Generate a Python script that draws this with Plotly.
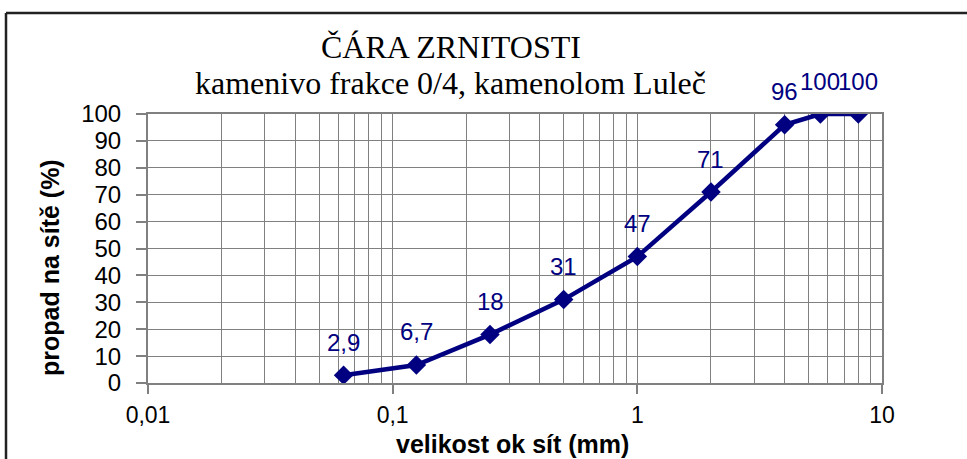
import math
import plotly.graph_objects as go

# Data
sieve_mm = [0.063, 0.125, 0.25, 0.5, 1, 2, 4, 5.6, 8]
passing = [2.9, 6.7, 18, 31, 47, 71, 96, 100, 100]
labels = ["2,9", "6,7", "18", "31", "47", "71", "96", "100", "100"]
x_ticks = [0.01, 0.1, 1, 10]
x_tick_text = ["0,01", "0,1", "1", "10"]
y_ticks = list(range(0, 101, 10))
title_line1 = "ČÁRA ZRNITOSTI"
title_line2 = "kamenivo frakce 0/4, kamenolom Luleč"
x_title = "velikost ok sít (mm)"
y_title = "propad na sítě (%)"

NAVY = "#000080"
GRID = "#808080"
SANS = "Arial, Liberation Sans, sans-serif"
SERIF = "Times New Roman, Liberation Serif, serif"

W, H = 967, 459
L, R, T, B = 148, 85, 114, 76
pw, ph = W - L - R, H - T - B


def px(xp):
    return (xp - L) / pw


def py(yp):
    return (H - B - yp) / ph


minor_vals = [m * 10 ** e for e in (-2, -1, 0) for m in range(2, 10)]

fig = go.Figure()
fig.add_trace(go.Scatter(
    x=sieve_mm, y=passing, mode="lines+markers",
    line=dict(color=NAVY, width=4.5),
    marker=dict(symbol="diamond", size=15, color=NAVY),
    showlegend=False, hoverinfo="skip",
))

annotations = []
for xv, yv, t in zip(sieve_mm, passing, labels):
    annotations.append(dict(
        x=math.log10(xv), y=yv, xref="x", yref="y", text=t, showarrow=False,
        xanchor="center", yanchor="middle",
        yshift=33, font=dict(family=SANS, size=24, color=NAVY),
    ))

annotations += [
    dict(x=px(451), y=py(47), xref="paper", yref="paper", text=title_line1,
         xanchor="center", yanchor="middle",
         showarrow=False, font=dict(family=SERIF, size=32, color="black")),
    dict(x=px(450), y=py(83), xref="paper", yref="paper", text=title_line2,
         xanchor="center", yanchor="middle",
         showarrow=False, font=dict(family=SERIF, size=32, color="black")),
    dict(x=px(512), y=py(444), xref="paper", yref="paper", text="<b>" + x_title + "</b>",
         xanchor="center", yanchor="middle",
         showarrow=False, font=dict(family=SANS, size=25, color="black")),
    dict(x=px(50), y=py(268), xref="paper", yref="paper", text="<b>" + y_title + "</b>",
         xanchor="center", yanchor="middle",
         textangle=-90, showarrow=False, font=dict(family=SANS, size=25, color="black")),
]

shapes = [
    dict(type="line", xref="paper", yref="paper", x0=px(6), x1=px(W + 5), y0=py(13), y1=py(13),
         line=dict(color="#222", width=2.5)),
    dict(type="line", xref="paper", yref="paper", x0=px(6), x1=px(6), y0=py(13), y1=py(H + 5),
         line=dict(color="#222", width=2.5)),
]

fig.update_layout(
    width=W, height=H,
    margin=dict(l=L, r=R, t=T, b=B),
    paper_bgcolor="white", plot_bgcolor="white",
    annotations=annotations, shapes=shapes,
    font=dict(family=SANS, size=23, color="black"),
)

fig.update_xaxes(
    type="log", range=[-2, 1],
    tickvals=x_ticks, ticktext=x_tick_text,
    ticks="outside", ticklen=9, tickcolor=GRID, tickwidth=1.5,
    showgrid=True, gridcolor=GRID, gridwidth=1,
    minor=dict(tickvals=minor_vals, showgrid=True, gridcolor=GRID, gridwidth=1, ticks=""),
    showline=True, linecolor=GRID, linewidth=2, mirror=True,
    tickfont=dict(family=SANS, size=23, color="black"),
    ticklabelstandoff=1,
    zeroline=False,
)
fig.update_yaxes(
    range=[0, 100], tickvals=y_ticks,
    ticks="outside", ticklen=10, tickcolor=GRID, tickwidth=1.5,
    showgrid=True, gridcolor=GRID, gridwidth=1,
    showline=True, linecolor=GRID, linewidth=2, mirror=True,
    tickfont=dict(family=SANS, size=24, color="black"),
    ticklabelstandoff=10,
    zeroline=False,
)

fig.write_html(
    "out.html",
    config={"displayModeBar": False},
    post_script="document.body.style.margin='0';document.body.style.overflow='hidden';",
)
